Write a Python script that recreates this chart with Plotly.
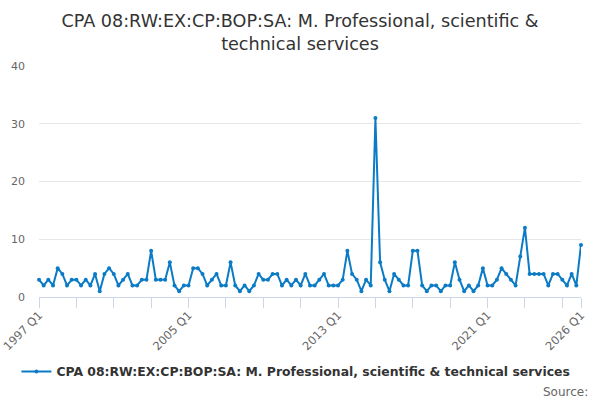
import plotly.graph_objects as go

quarters = [f"{y} Q{q}" for y in range(1997, 2027) for q in range(1, 5)][:117]

values = [
    3, 2, 3, 2, 5, 4, 2, 3, 3, 2, 3, 2, 4, 1, 4, 5,
    4, 2, 3, 4, 2, 2, 3, 3, 8, 3, 3, 3, 6, 2, 1, 2,
    2, 5, 5, 4, 2, 3, 4, 2, 2, 6, 2, 1, 2, 1, 2, 4,
    3, 3, 4, 4, 2, 3, 2, 3, 2, 4, 2, 2, 3, 4, 2, 2,
    2, 3, 8, 4, 3, 1, 3, 2, 31, 6, 3, 1, 4, 3, 2, 2,
    8, 8, 2, 1, 2, 2, 1, 2, 2, 6, 3, 1, 2, 1, 2, 5,
    2, 2, 3, 5, 4, 3, 2, 7, 12, 4, 4, 4, 4, 2, 4, 4,
    3, 2, 4, 2, 9,
]

series_name = "CPA 08:RW:EX:CP:BOP:SA: M. Professional, scientific & technical services"
title_text = "CPA 08:RW:EX:CP:BOP:SA: M. Professional, scientific &<br>technical services"
labelled = {"1997 Q1", "2005 Q1", "2013 Q1", "2021 Q1", "2026 Q1"}

tick_vals = quarters[::8] + [quarters[-1]]
tick_text = [q if q in labelled else "" for q in tick_vals]

color = "#0c7bc6"

fig = go.Figure(
    go.Scatter(
        x=quarters,
        y=values,
        mode="lines+markers",
        name=series_name,
        line=dict(color=color, width=2),
        marker=dict(color=color, size=4),
        cliponaxis=False,
    )
)

fig.update_layout(
    width=600,
    height=400,
    margin=dict(l=39, r=19, t=66, b=103, autoexpand=False),
    paper_bgcolor="white",
    plot_bgcolor="white",
    font=dict(family="DejaVu Sans", color="#666666"),
    title=dict(
        text=title_text,
        x=0.5,
        xanchor="center",
        y=0.933,
        yanchor="middle",
        font=dict(size=17.6, color="#333333", family="DejaVu Sans"),
    ),
    showlegend=True,
    legend=dict(
        orientation="h",
        x=0.474,
        xanchor="center",
        yref="container",
        y=0.07,
        yanchor="middle",
        font=dict(size=12.4, color="#333333", family="DejaVu Sans", weight="bold"),
    ),
    xaxis=dict(
        type="category",
        automargin=False,
        range=[0, len(quarters) - 1],
        tickmode="array",
        tickvals=tick_vals,
        ticktext=tick_text,
        tickangle=-45,
        ticks="outside",
        ticklen=10,
        tickcolor="#ccd6eb",
        showline=True,
        linecolor="#ccd6eb",
        linewidth=1,
        showgrid=False,
        tickfont=dict(size=11.5, color="#666666"),
        ticklabelstandoff=-4,
    ),
    yaxis=dict(
        automargin=False,
        range=[0, 40],
        dtick=10,
        showgrid=True,
        gridcolor="#e6e6e6",
        zeroline=False,
        showline=False,
        tickfont=dict(size=11, color="#666666"),
        ticklabelstandoff=13,
    ),
    annotations=[
        dict(
            text="Source:",
            xref="paper",
            yref="paper",
            x=1.017,
            y=-0.411,
            xanchor="right",
            yanchor="middle",
            showarrow=False,
            font=dict(size=12, color="#666666", family="DejaVu Sans"),
        )
    ],
)

fig.write_html(
    "out.html",
    config={"displayModeBar": False},
    post_script="document.body.style.margin='0';document.body.style.padding='0';",
)
